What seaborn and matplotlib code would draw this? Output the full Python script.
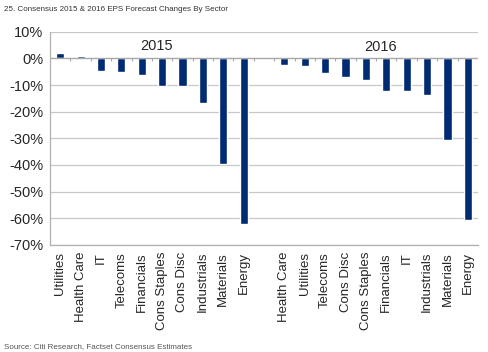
import pandas as pd
import numpy as np
import matplotlib.pyplot as plt
import seaborn as sns

sns.set_style('white')
plt.rcParams['font.family'] = ['Liberation Sans', 'DejaVu Sans']

# data (percent change)
sectors_2015 = ['Utilities', 'Health Care', 'IT', 'Telecoms', 'Financials',
                'Cons Staples', 'Cons Disc', 'Industrials', 'Materials', 'Energy']
values_2015 = [2.1, 1.0, -4.6, -5.0, -6.2, -10.2, -10.2, -16.6, -39.6, -62.0]
sectors_2016 = ['Health Care', 'Utilities', 'Telecoms', 'Cons Disc', 'Cons Staples',
                'Financials', 'IT', 'Industrials', 'Materials', 'Energy']
values_2016 = [-2.6, -2.9, -5.4, -6.9, -8.0, -12.3, -12.4, -13.7, -30.5, -60.8]
yticks = [10, 0, -10, -20, -30, -40, -50, -60, -70]

keys = ['2015 ' + s for s in sectors_2015] + ['gap'] + ['2016 ' + s for s in sectors_2016]
labels = sectors_2015 + [''] + sectors_2016
data = pd.DataFrame({'key': ['2015 ' + s for s in sectors_2015] + ['2016 ' + s for s in sectors_2016],
                     'value': values_2015 + values_2016})

fig = plt.figure(figsize=(4.88, 3.52), dpi=100)
ax = fig.add_axes([0.1025, 0.304, 0.877, 0.606])

sns.barplot(data=data, x='key', y='value', order=keys, color='#002B73',
            saturation=1, width=0.4, ax=ax)

ax.set_ylim(-70, 10)
ax.set_xlim(-0.5, len(keys) - 0.5)
ax.set_yticks(yticks)
ax.set_yticklabels([f'{t}%' for t in yticks], fontsize=10.5)
ax.set_xticks(range(len(keys)))
ax.set_xticklabels(labels, rotation=90, fontsize=9.5)
ax.tick_params(axis='x', length=0, pad=5)
ax.tick_params(axis='y', length=3, color='#a0a0a0', pad=2)
ax.set_xlabel('')
ax.set_ylabel('')

ax.yaxis.grid(True, color='#c8c8c8', linewidth=0.9)
ax.set_axisbelow(True)
for side in ['top', 'right']:
    ax.spines[side].set_visible(False)
for side in ['left', 'bottom']:
    ax.spines[side].set_color('#b0b0b0')
    ax.spines[side].set_linewidth(0.9)

# zero line with small category ticks
ax.axhline(0, color='#a8a8a8', linewidth=0.9, zorder=1)
ax.vlines(np.arange(0.5, len(keys) - 1, 1), -0.9, 0, color='#a8a8a8', linewidth=0.8, zorder=1)

ax.text(4.75, 4.5, '2015', ha='center', va='center', fontsize=10.5)
ax.text(15.7, 4.3, '2016', ha='center', va='center', fontsize=10.5)

fig.text(0.008, 0.972, '25. Consensus 2015 & 2016 EPS Forecast Changes By Sector',
         fontsize=5.8, color='#333333', va='center')
fig.text(0.008, 0.015, 'Source: Citi Research, Factset Consensus Estimates',
         fontsize=5.8, color='#555555', va='center')

fig.savefig('out.png', dpi=100)
